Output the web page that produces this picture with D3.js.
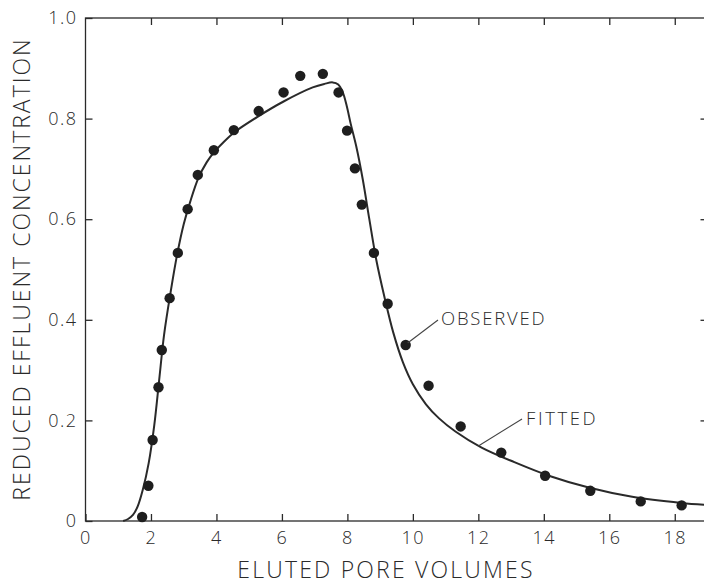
<!DOCTYPE html>
<html>
<head>
<meta charset="utf-8">
<script src="https://cdn.jsdelivr.net/npm/d3@7"></script>
<style>
  html, body { margin: 0; padding: 0; background: #fff; }
  svg { display: block; }
  text { font-family: "Open Sans", "DejaVu Sans", sans-serif; font-weight: 300; fill: #2a2a2a; }
</style>
</head>
<body>
<script>
// ---- data ----
const xTicks = [0, 2, 4, 6, 8, 10, 12, 14, 16, 18];
const yTicks = [0, 0.2, 0.4, 0.6, 0.8, 1.0];
const yTickLabels = ["0", "0.2", "0.4", "0.6", "0.8", "1.0"];

const observedX = [1.73, 1.92, 2.05, 2.23, 2.33, 2.57, 2.82, 3.12, 3.43, 3.92, 4.53, 5.29, 6.05, 6.56, 7.25,
                   7.73, 7.99, 8.23, 8.44, 8.81, 9.23, 9.78, 10.48, 11.46, 12.70, 14.04, 15.42, 16.96, 18.21];
const observedY = [0.008, 0.070, 0.161, 0.266, 0.340, 0.443, 0.533, 0.620, 0.688, 0.737, 0.777, 0.815, 0.852, 0.885, 0.889,
                   0.852, 0.776, 0.701, 0.629, 0.533, 0.432, 0.350, 0.269, 0.188, 0.136, 0.090, 0.060, 0.039, 0.031];

const fittedX = [1.15, 1.3, 1.45, 1.6, 1.75, 1.93, 2.1, 2.25, 2.4, 2.6, 2.8, 3.0, 3.2, 3.45, 3.7, 3.91, 4.2, 4.53,
                 5.29, 6.05, 6.94, 7.3, 7.55, 7.72, 7.86, 7.98, 8.1, 8.27, 8.47, 8.67, 8.88, 9.13, 9.4, 9.7, 10.0,
                 10.4, 10.8, 11.3, 12.1, 13.1, 14.2, 15.4, 16.7, 18.2, 19.0];
const fittedY = [0, 0.004, 0.012, 0.03, 0.062, 0.115, 0.19, 0.28, 0.37, 0.455, 0.53, 0.59, 0.635, 0.682, 0.713, 0.732, 0.752, 0.772,
                 0.805, 0.834, 0.862, 0.869, 0.872, 0.868, 0.852, 0.825, 0.79, 0.745, 0.679, 0.6, 0.52, 0.446, 0.375, 0.315, 0.272,
                 0.232, 0.204, 0.178, 0.146, 0.117, 0.089, 0.066, 0.048, 0.036, 0.032];

const xTitle = "ELUTED PORE VOLUMES";
const yTitle = "REDUCED EFFLUENT CONCENTRATION";
const observedLabel = "OBSERVED";
const fittedLabel = "FITTED";

// ---- drawing ----
const W = 704, H = 584;
const svg = d3.select("body").append("svg").attr("width", W).attr("height", H);

const x = d3.scaleLinear().domain([0, 19]).range([85.5, 707.5]);
const y = d3.scaleLinear().domain([0, 1]).range([521, 18]);

const ink = "#2a2a2a";
const tickLen = 7;
const fontStack = '"Open Sans", "DejaVu Sans", sans-serif';

// frame
svg.append("rect")
  .attr("x", x(0)).attr("y", y(1))
  .attr("width", x(19) - x(0)).attr("height", y(0) - y(1))
  .attr("fill", "none").attr("stroke", ink).attr("stroke-width", 1.3);

// bottom axis (ticks inward)
const gx = svg.append("g").attr("transform", `translate(0,${y(0)})`)
  .call(d3.axisBottom(x).tickValues(xTicks).tickSize(-tickLen).tickPadding(0).tickFormat(d3.format("d")));
gx.select(".domain").remove();
gx.selectAll(".tick line").attr("stroke", ink).attr("stroke-width", 1.3);
gx.selectAll(".tick text").attr("font-size", 18).attr("y", 23).attr("dy", 0).attr("fill", ink)
  .attr("letter-spacing", 1.5)
  .style("font-family", fontStack).style("font-weight", 300);

// top axis ticks
const gt = svg.append("g").attr("transform", `translate(0,${y(1)})`)
  .call(d3.axisTop(x).tickValues(xTicks.filter(d => d > 0)).tickSize(-tickLen).tickFormat(""));
gt.select(".domain").remove();
gt.selectAll(".tick line").attr("stroke", ink).attr("stroke-width", 1.3);

// left axis
const gy = svg.append("g").attr("transform", `translate(${x(0)},0)`)
  .call(d3.axisLeft(y).tickValues(yTicks).tickSize(-tickLen).tickPadding(0)
    .tickFormat((d, i) => yTickLabels[i]));
gy.select(".domain").remove();
gy.selectAll(".tick line").attr("stroke", ink).attr("stroke-width", 1.3);
gy.selectAll(".tick text").attr("font-size", 18).attr("x", -8).attr("fill", ink)
  .attr("letter-spacing", 1.5)
  .style("font-family", fontStack).style("font-weight", 300);

// right axis ticks
const gr = svg.append("g").attr("transform", `translate(${x(19)},0)`)
  .call(d3.axisRight(y).tickValues(yTicks.filter(d => d > 0 && d < 1)).tickSize(-tickLen).tickFormat(""));
gr.select(".domain").remove();
gr.selectAll(".tick line").attr("stroke", ink).attr("stroke-width", 1.3);

// axis titles
svg.append("text")
  .attr("x", 386).attr("y", 578)
  .attr("text-anchor", "middle").attr("font-size", 23)
  .attr("letter-spacing", 2.2)
  .text(xTitle);

svg.append("text")
  .attr("transform", "translate(30,269) rotate(-90)")
  .attr("text-anchor", "middle").attr("font-size", 23)
  .attr("letter-spacing", 2.0)
  .text(yTitle);

// fitted curve
const fitted = fittedX.map((d, i) => [d, fittedY[i]]);
svg.append("path")
  .datum(fitted)
  .attr("fill", "none").attr("stroke", ink).attr("stroke-width", 2)
  .attr("d", d3.line().x(d => x(d[0])).y(d => y(d[1])).curve(d3.curveCatmullRom.alpha(0.5)));

// observed points
const observed = observedX.map((d, i) => [d, observedY[i]]);
svg.append("g").selectAll("circle")
  .data(observed).join("circle")
  .attr("cx", d => x(d[0])).attr("cy", d => y(d[1]))
  .attr("r", 5.2).attr("fill", "#1e1e1e");

// annotations
const obsPt = observed[21];
svg.append("line")
  .attr("x1", x(obsPt[0]) + 2).attr("y1", y(obsPt[1]) - 2)
  .attr("x2", 438).attr("y2", 320)
  .attr("stroke", "#444").attr("stroke-width", 1.1);
svg.append("text")
  .attr("x", 441).attr("y", 325).attr("font-size", 18.5).attr("letter-spacing", 1.8)
  .text(observedLabel);

svg.append("line")
  .attr("x1", x(12.0)).attr("y1", y(0.149))
  .attr("x2", 522).attr("y2", 419)
  .attr("stroke", "#444").attr("stroke-width", 1.1);
svg.append("text")
  .attr("x", 526).attr("y", 425).attr("font-size", 18.5).attr("letter-spacing", 2.6)
  .text(fittedLabel);
</script>
</body>
</html>
